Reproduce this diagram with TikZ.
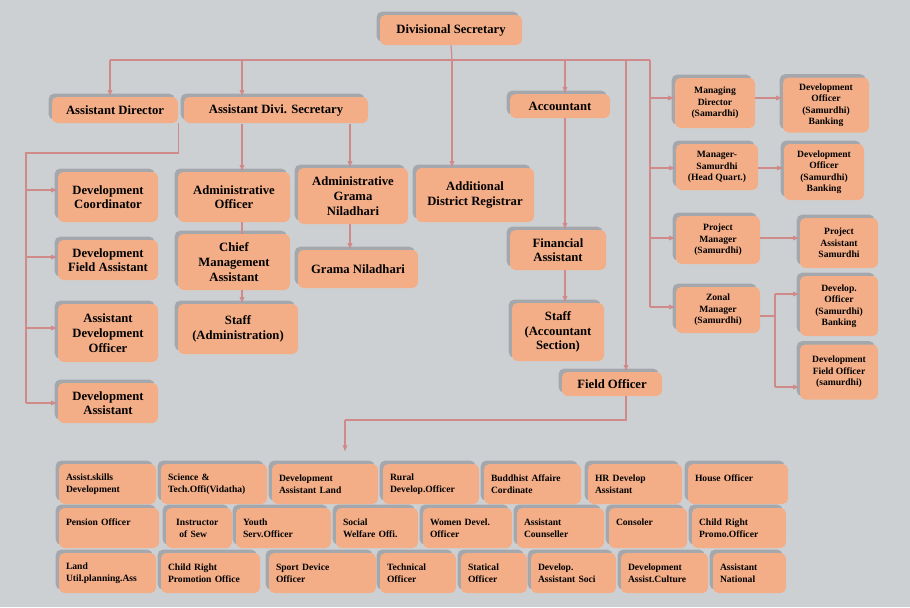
\documentclass[tikz,border=0pt]{standalone}
\usepackage{fontspec}
\setmainfont{Liberation Serif}
\usetikzlibrary{arrows.meta,shadows}
\definecolor{bg}{HTML}{CDD0D3}
\definecolor{bxf}{HTML}{F3AE88}
\definecolor{ln}{HTML}{D08A8A}
\definecolor{sh}{HTML}{A4A8AC}
\newcommand\bx[7][box]{\node[#1,minimum width={#5*0.75pt},minimum height={#6*0.75pt}] (#2) at (#3,#4) {#7};}
\newcommand\sbx[6]{\node[sbox,minimum width={#5*0.75pt},text width={(#5-14)*0.75pt},minimum height={#6*0.75pt}] (#1) at (#3,#4) {#2};}
\begin{document}
\begin{tikzpicture}[x=0.75pt,y=-0.75pt,
 box/.style={draw=none,fill=bxf,rounded corners=4pt,align=center,inner sep=2pt,
   font=\bfseries\fontsize{9.5}{11}\selectfont,
   general shadow={fill=sh,shadow xshift=-2.5pt,shadow yshift=2.5pt}},
 rbox/.style={box,font=\bfseries\fontsize{7.2}{8.6}\selectfont},
 sbox/.style={box,align=left,font=\bfseries\fontsize{7.2}{9}\selectfont},
 ar/.style={draw=ln,line width=0.9pt,-{Latex[length=5pt,width=4pt]}},
 ln/.style={draw=ln,line width=0.9pt}]
\fill[bg] (0,0) rectangle (910,607);
\bx{ds}{451}{30}{142}{30}{Divisional Secretary}
\bx{ad}{115}{110}{126}{26}{Assistant Director}
\bx{ads}{276}{110}{184}{26}{Assistant Divi. Secretary}
\bx{acc}{560}{106}{100}{24}{Accountant}
\bx{dc}{108}{197}{100}{50}{Development\\Coordinator}
\bx{dfa}{108}{260}{100}{40}{Development\\Field Assistant}
\bx{ado}{108}{333}{100}{58}{Assistant\\Development\\Officer}
\bx{da}{108}{403}{100}{40}{Development\\Assistant}
\bx{ao}{234}{197}{112}{50}{Administrative\\Officer}
\bx{cma}{234}{262}{112}{56}{Chief\\Management\\Assistant}
\bx{sa}{238}{329}{120}{50}{Staff\\(Administration)}
\bx{agn}{353}{196}{110}{56}{Administrative\\Grama\\Niladhari}
\bx{gn}{358}{269}{120}{38}{Grama Niladhari}
\bx{adr}{475}{195}{118}{54}{Additional\\District Registrar}
\bx{fa}{558}{250}{96}{40}{Financial\\Assistant}
\bx{sas}{558}{332}{92}{58}{Staff\\(Accountant\\Section)}
\bx{fo}{612}{384}{100}{24}{Field Officer}
\bx[rbox]{md}{715}{103}{80}{50}{Managing\\Director\\(Samardhi)}
\bx[rbox]{do1}{826}{105}{86}{55}{Development\\Officer\\(Samurdhi)\\Banking}
\bx[rbox]{ms}{717}{167}{82}{46}{Manager-\\Samurdhi\\(Head Quart.)}
\bx[rbox]{do2}{824}{172}{80}{56}{Development\\Officer\\(Samurdhi)\\Banking}
\bx[rbox]{pm}{718}{240}{84}{48}{Project\\Manager\\(Samurdhi)}
\bx[rbox]{pa}{839}{243}{78}{50}{Project\\Assistant\\Samurdhi}
\bx[rbox]{zm}{718}{310}{84}{46}{Zonal\\Manager\\(Samurdhi)}
\bx[rbox]{do3}{839}{306}{78}{60}{Develop.\\Officer\\(Samurdhi)\\Banking}
\bx[rbox]{dfo}{839}{372}{78}{55}{Development\\Field Officer\\(samurdhi)}
% bottom grid
\sbx{b1}{Assist.skills\\Development}{107.5}{484}{97}{40}
\sbx{b2}{Science \&\\Tech.Offi(Vidatha)}{214}{484}{106}{40}
\sbx{b3}{Development\\Assistant Land}{325}{484}{106}{40}
\sbx{b4}{Rural\\Develop.Officer}{431}{484}{96}{40}
\sbx{b5}{Buddhist Affaire\\Cordinate}{532.5}{484}{97}{40}
\sbx{b6}{HR Develop\\Assistant}{635}{484}{94}{40}
\sbx{b7}{House Officer\\\mbox{}}{738}{484}{100}{40}
\sbx{c1}{Pension Officer\\\mbox{}}{109}{528}{100}{40}
\sbx{c2}{\ Instructor\\\ \ of Sew}{199}{528}{66}{40}
\sbx{c3}{Youth\\Serv.Officer}{283.5}{528}{95}{40}
\sbx{c4}{Social\\Welfare Offi.}{377}{528}{82}{40}
\sbx{c5}{Women Devel.\\Officer}{467.5}{528}{89}{40}
\sbx{c6}{Assistant\\Counseller}{560.5}{528}{87}{40}
\sbx{c7}{Consoler\\\mbox{}}{648}{528}{78}{40}
\sbx{c8}{Child Right\\Promo.Officer}{739}{528}{94}{40}
\sbx{d1}{Land\\Util.planning.Ass}{107.5}{573}{97}{40}
\sbx{d2}{Child Right\\Promotion Office}{210.5}{573}{99}{40}
\sbx{d3}{Sport Device\\Officer}{322.5}{573}{107}{40}
\sbx{d4}{Technical\\Officer}{418}{573}{76}{40}
\sbx{d5}{Statical\\Officer}{494}{573}{66}{40}
\sbx{d6}{Develop.\\Assistant Soci}{573.5}{573}{85}{40}
\sbx{d7}{Development\\Assist.Culture}{664.5}{573}{87}{40}
\sbx{d8}{Assistant\\National}{749.5}{573}{73}{40}
% connectors
\coordinate (t) at (452,60);
\draw[ln] (ds.south) -- (t);
\draw[ln] (110,60) -- (650,60);
\draw[ar] (110,60) -- (ad.north -| 110,60);
\draw[ar] (242,60) -- (ads.north -| 242,60);
\draw[ar] (565,60) -- (acc.north -| 565,60);
\draw[ar] (t) -- (adr.north -| t);
\draw[ar] (626,60) -- (fo.north -| 626,60);
\draw[ln] (650,60) -- (650,307);
\foreach \n/\y in {md/98,ms/168,pm/238,zm/307} \draw[ar] (650,\y) -- (\n.west |- 0,\y);
\draw[ar] (md.east |- 0,98) -- (do1.west |- 0,98);
\draw[ar] (ms.east |- 0,168) -- (do2.west |- 0,168);
\draw[ar] (pm.east |- 0,238) -- (pa.west |- 0,238);
\draw[ln] (zm.east |- 0,316) -- (775,316);
\draw[ln] (775,294) -- (775,387);
\draw[ar] (775,294) -- (do3.west |- 0,294);
\draw[ar] (775,387) -- (dfo.west |- 0,387);
\draw[ln] (ad.south east) |- (26,153) -- (26,403);
\foreach \n/\y in {dc/190,dfa/257,ado/328,da/403} \draw[ar] (26,\y) -- (\n.west |- 0,\y);
\draw[ar] (ao.north -| 242,0) ++(0,-48) -- (ao.north -| 242,0);
\draw[ar] (agn.north -| 350,0) ++(0,-44) -- (agn.north -| 350,0);
\draw[ln] (ao.south -| 242,0) -- (cma.north -| 242,0);
\draw[ar] (cma.south -| 242,0) -- (sa.north -| 242,0);
\draw[ar] (agn.south -| 350,0) -- (gn.north -| 350,0);
\draw[ar] (acc.south -| 565,0) -- (fa.north -| 565,0);
\draw[ar] (fa.south -| 565,0) -- (sas.north -| 565,0);
\draw[ln] (fo.south -| 626,0) -- (626,420) -- (345,420);
\draw[ar] (345,420) -- (345,452);
\end{tikzpicture}
\end{document}
